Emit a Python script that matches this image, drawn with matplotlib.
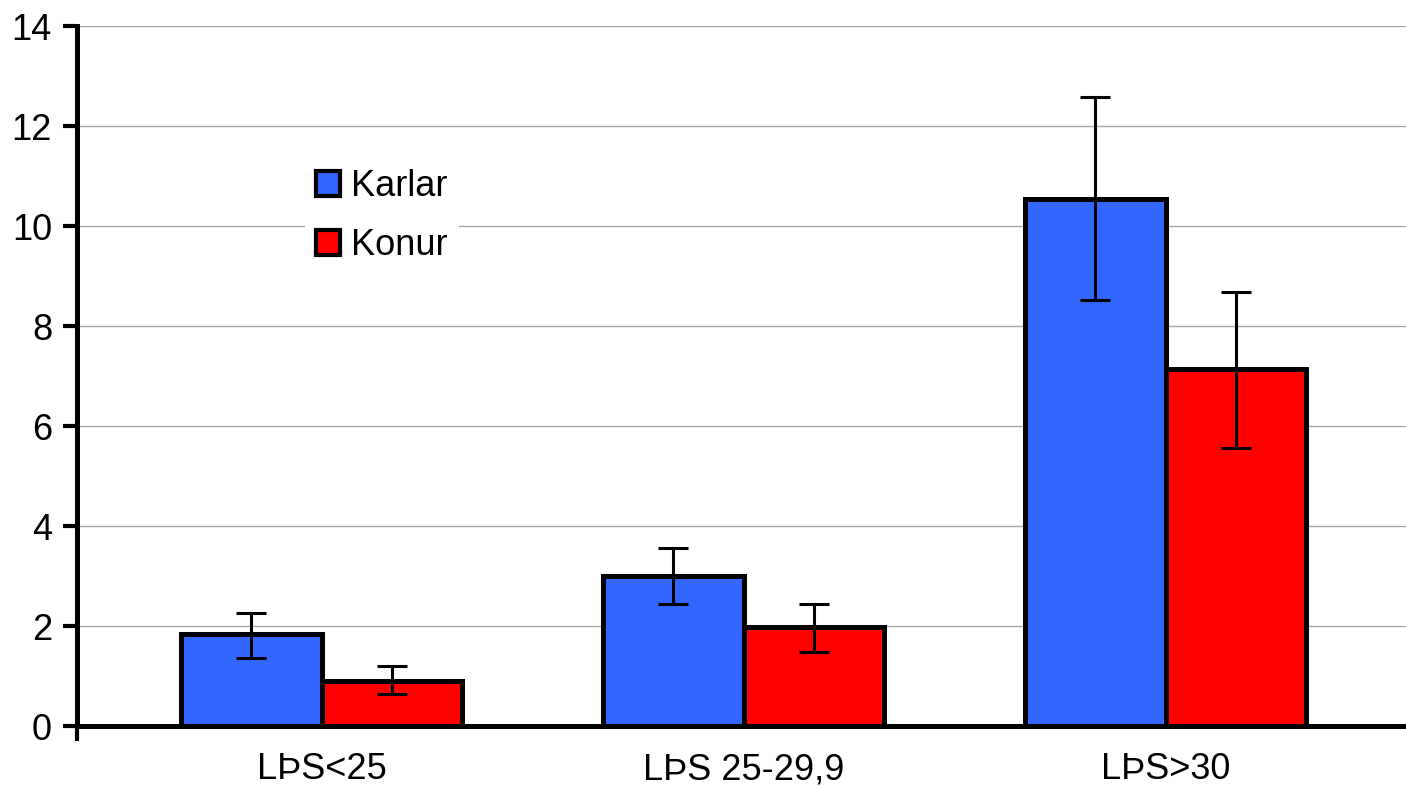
import matplotlib
matplotlib.use("Agg")
import matplotlib.pyplot as plt
import numpy as np
from matplotlib.patches import Patch

plt.rcParams['font.family'] = ['Liberation Sans', 'DejaVu Sans']

categories = ["LÞS<25", "LÞS 25-29,9", "LÞS>30"]
series_names = ["Karlar", "Konur"]
karlar = [1.84, 3.0, 10.54]
karlar_lo = [1.37, 2.44, 8.52]
karlar_hi = [2.27, 3.56, 12.58]
konur = [0.9, 1.98, 7.14]
konur_lo = [0.64, 1.48, 5.56]
konur_hi = [1.2, 2.44, 8.68]
yticks = [0, 2, 4, 6, 8, 10, 12, 14]

blue = "#3366FF"
red = "#FF0000"

W, H = 1406, 788
fig = plt.figure(figsize=(W / 100, H / 100), dpi=100)
ax = fig.add_axes([77 / W, 1 - 726 / H, (1406 - 77) / W, 700 / H])

x = np.arange(len(categories))
bw = 0.333
edge_lw = 3.6
fs = 26

err_k = [np.array(karlar) - np.array(karlar_lo), np.array(karlar_hi) - np.array(karlar)]
err_r = [np.array(konur) - np.array(konur_lo), np.array(konur_hi) - np.array(konur)]

ax.bar(x - bw / 2, karlar, width=bw, color=blue, edgecolor="black", linewidth=edge_lw,
       zorder=3, yerr=err_k, capsize=11,
       error_kw=dict(elinewidth=2.2, capthick=2.2, ecolor="black", zorder=4))
ax.bar(x + bw / 2, konur, width=bw, color=red, edgecolor="black", linewidth=edge_lw,
       zorder=3, yerr=err_r, capsize=11,
       error_kw=dict(elinewidth=2.2, capthick=2.2, ecolor="black", zorder=4))

xmin, xmax = -0.58, 2.57
ax.set_xlim(xmin, xmax)
ax.set_ylim(0, 14)
ax.set_yticks(yticks)
ax.set_yticklabels([str(t) for t in yticks])
ax.set_xticks(x)
ax.set_xticklabels(categories)
ax.set_xticks([xmin], minor=True)

ax.yaxis.grid(True, color="#a6a6a6", linewidth=1.0, zorder=0)
ax.set_axisbelow(True)

for s in ["top", "right"]:
    ax.spines[s].set_visible(False)
for s in ["left", "bottom"]:
    ax.spines[s].set_linewidth(3.6)
    ax.spines[s].set_zorder(5)

ax.tick_params(axis="y", direction="out", length=10, width=3.0, labelsize=fs, pad=8)
ax.tick_params(axis="x", which="major", length=0, labelsize=fs, pad=19)
ax.tick_params(axis="x", which="minor", direction="out", length=11, width=3.0)

handles = [Patch(facecolor=blue, edgecolor="black", linewidth=3),
           Patch(facecolor=red, edgecolor="black", linewidth=3)]
leg = ax.legend(handles, series_names, loc="upper left",
                bbox_to_anchor=(305 / W, 1 - 158 / H), bbox_transform=fig.transFigure,
                fontsize=fs, frameon=True, fancybox=False, framealpha=1,
                handlelength=0.68, handleheight=0.68, handletextpad=0.3,
                labelspacing=0.68, borderpad=0.3, borderaxespad=0)
leg.get_frame().set_edgecolor("none")
leg.get_frame().set_facecolor("white")
leg.set_zorder(6)

fig.savefig("out.png", dpi=100)
